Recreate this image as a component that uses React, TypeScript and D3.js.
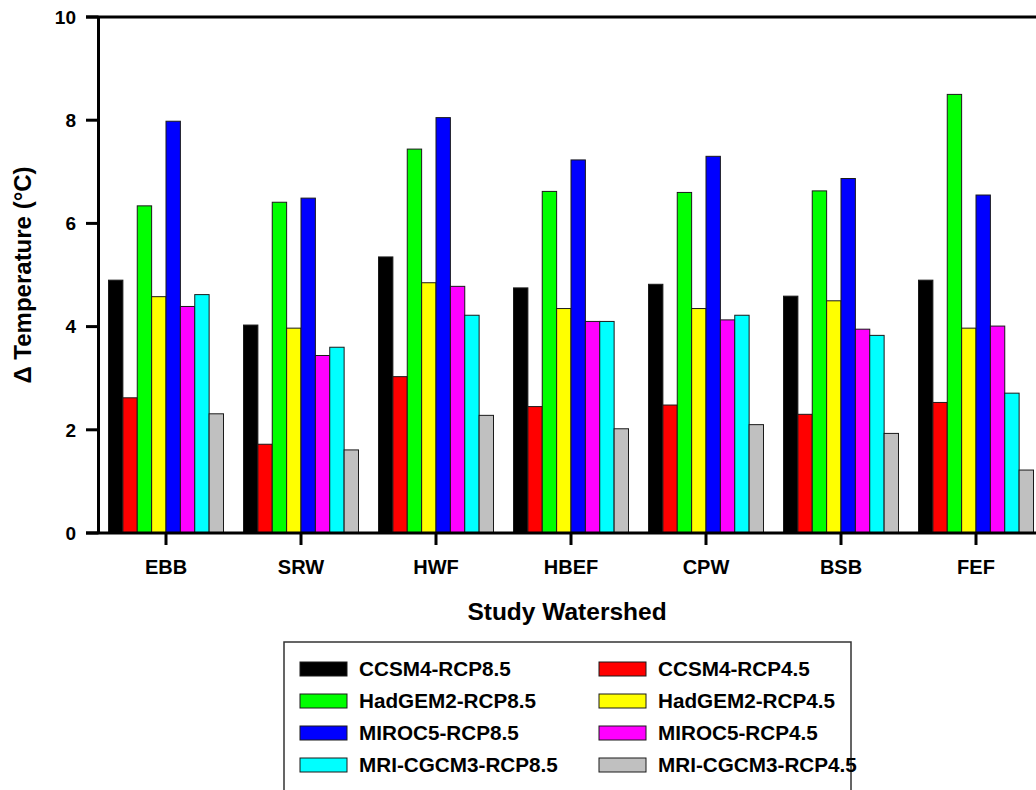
import React from "react";
import * as d3 from "d3";

const categories = ["EBB", "SRW", "HWF", "HBEF", "CPW", "BSB", "FEF"];
const seriesNames = [
  "CCSM4-RCP8.5",
  "CCSM4-RCP4.5",
  "HadGEM2-RCP8.5",
  "HadGEM2-RCP4.5",
  "MIROC5-RCP8.5",
  "MIROC5-RCP4.5",
  "MRI-CGCM3-RCP8.5",
  "MRI-CGCM3-RCP4.5",
];
const seriesColors = ["#000000", "#ff0000", "#00ff00", "#ffff00", "#0000ff", "#ff00ff", "#00ffff", "#c0c0c0"];

const ccsm4Rcp85 = [4.9, 4.03, 5.35, 4.75, 4.82, 4.59, 4.9];
const ccsm4Rcp45 = [2.62, 1.72, 3.03, 2.45, 2.48, 2.3, 2.53];
const hadgem2Rcp85 = [6.34, 6.41, 7.44, 6.62, 6.6, 6.63, 8.5];
const hadgem2Rcp45 = [4.58, 3.97, 4.85, 4.35, 4.35, 4.5, 3.97];
const miroc5Rcp85 = [7.98, 6.49, 8.05, 7.23, 7.3, 6.87, 6.55];
const miroc5Rcp45 = [4.39, 3.44, 4.78, 4.1, 4.13, 3.95, 4.01];
const mriRcp85 = [4.62, 3.6, 4.22, 4.1, 4.22, 3.83, 2.71];
const mriRcp45 = [2.31, 1.61, 2.28, 2.02, 2.1, 1.93, 1.22];

const seriesValues = [ccsm4Rcp85, ccsm4Rcp45, hadgem2Rcp85, hadgem2Rcp45, miroc5Rcp85, miroc5Rcp45, mriRcp85, mriRcp45];
const yTicks = [0, 2, 4, 6, 8, 10];

const FONT = "'Liberation Sans', Arial, Helvetica, sans-serif";

export default function App() {
  const W = 1036;
  const H = 790;
  const left = 98.5;
  const top = 17;
  const bottom = 533;
  const step = 135;
  const right = left + step * categories.length;

  const p = 1 - 115 / 135;
  const x = d3.scaleBand<string>().domain(categories).range([left, right]).paddingInner(p).paddingOuter(p / 2);
  const xs = d3.scaleBand<string>().domain(seriesNames).range([0, x.bandwidth()]);
  const y = d3.scaleLinear().domain([0, 10]).range([bottom, top]);

  const legendY = (r: number) => 662 + r * 32;

  return (
    <svg width={W} height={H} style={{ position: "absolute", left: 0, top: 0, background: "#fff" }} fontFamily={FONT}>
      <rect x={0} y={0} width={W} height={H} fill="#fff" />
      {categories.map((c, ci) => (
        <g key={c}>
          {seriesNames.map((s, si) => {
            const v = seriesValues[si][ci];
            return (
              <rect
                key={s}
                x={(x(c) as number) + (xs(s) as number)}
                y={y(v)}
                width={xs.bandwidth()}
                height={bottom - y(v)}
                fill={seriesColors[si]}
                stroke="#1a1a1a"
                strokeWidth={1}
              />
            );
          })}
        </g>
      ))}
      <line x1={left} x2={left} y1={top} y2={bottom} stroke="#000" strokeWidth={3} />
      <line x1={86} x2={W + 10} y1={top} y2={top} stroke="#000" strokeWidth={3} />
      <line x1={86} x2={W + 10} y1={bottom} y2={bottom} stroke="#000" strokeWidth={3} />
      {yTicks.map((t) => (
        <g key={t}>
          <line x1={86} x2={left} y1={y(t)} y2={y(t)} stroke="#000" strokeWidth={3} />
          <text x={76} y={y(t)} dy="0.36em" textAnchor="end" fontSize={19} fontWeight="bold" fill="#000">
            {t}
          </text>
        </g>
      ))}
      {categories.map((c) => {
        const cx = (x(c) as number) + x.bandwidth() / 2;
        return (
          <g key={c}>
            <line x1={cx} x2={cx} y1={bottom} y2={545} stroke="#000" strokeWidth={3} />
            <text x={cx} y={574} textAnchor="middle" fontSize={20} fontWeight="bold" fill="#000">
              {c}
            </text>
          </g>
        );
      })}
      <text x={567} y={620} textAnchor="middle" fontSize={24.5} fontWeight="bold" fill="#000">
        Study Watershed
      </text>
      <text transform="translate(31,275) rotate(-90)" textAnchor="middle" fontSize={24} fontWeight="bold" fill="#000">
        Δ Temperature (°C)
      </text>
      <rect x={284} y={642} width={567} height={160} fill="none" stroke="#333" strokeWidth={1.5} />
      {seriesNames.map((s, i) => {
        const col = i % 2;
        const row = Math.floor(i / 2);
        const sx = col === 0 ? 300 : 599;
        const tx = col === 0 ? 359 : 658;
        const sy = legendY(row);
        return (
          <g key={s}>
            <rect x={sx} y={sy} width={47} height={14} fill={seriesColors[i]} stroke="#1a1a1a" strokeWidth={1} />
            <text x={tx} y={sy + 13.5} fontSize={20.7} fontWeight="bold" fill="#000">
              {s}
            </text>
          </g>
        );
      })}
    </svg>
  );
}
